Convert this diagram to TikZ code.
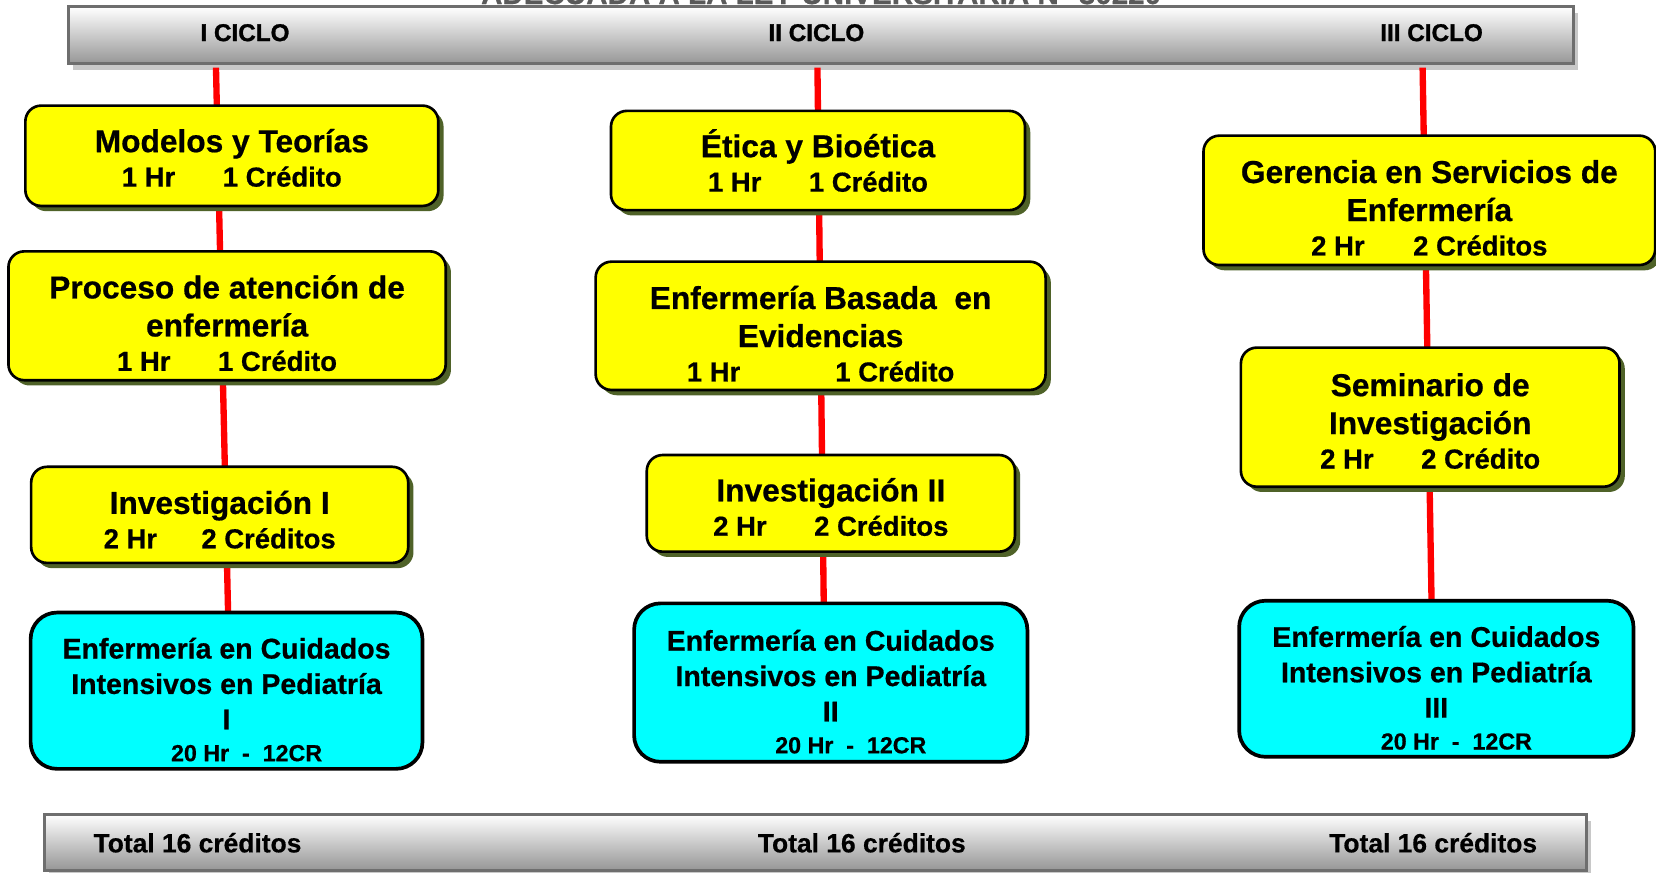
\documentclass[tikz,border=0pt]{standalone}
\usepackage{fontspec}
\setmainfont[BoldFeatures={FakeBold=0.6}]{Liberation Sans}
\newfontfamily\hdrfont[BoldFeatures={FakeBold=1.2}]{Liberation Sans}
\usetikzlibrary{shadows}
\definecolor{boxyellow}{RGB}{255,255,0}
\definecolor{boxcyan}{RGB}{0,255,255}
\definecolor{olivesh}{RGB}{79,98,40}
\definecolor{barborder}{RGB}{110,110,110}
\definecolor{barshadow}{RGB}{200,200,200}
\definecolor{bargrey}{RGB}{150,150,150}
\definecolor{toptextc}{RGB}{90,90,90}
\definecolor{linkred}{RGB}{255,0,0}
\tikzset{
  ybox/.style={draw=black, line width=2.5pt, fill=boxyellow, rounded corners=15pt,
    drop shadow={shadow xshift=5pt, shadow yshift=-5pt, fill=olivesh, opacity=1},
    align=center, inner sep=0pt, font=\bfseries\fontsize{30}{36}\selectfont},
  cbox/.style={draw=black, line width=3.5pt, fill=boxcyan, rounded corners=25pt,
    align=center, inner sep=0pt, font=\bfseries\fontsize{27}{33.5}\selectfont},
  greybar/.style={draw=barborder, line width=3pt, top color=white, bottom color=bargrey,
    drop shadow={shadow xshift=4pt, shadow yshift=-6pt, fill=barshadow, opacity=1},
    inner sep=0pt},
  hdrlabel/.style={font=\hdrfont\bfseries\fontsize{23}{28}\selectfont, inner sep=0pt},
  totlabel/.style={font=\bfseries\fontsize{25}{30}\selectfont, inner sep=0pt},
  link/.style={draw=linkred, line width=6pt},
}
\newcommand{\subl}{\fontsize{26}{32}\selectfont}
\newcommand{\crl}{\fontsize{22}{30}\selectfont}
\newcommand{\tstrut}[1]{\rule{0pt}{#1pt}}
\begin{document}
\begin{tikzpicture}[x=1pt,y=-1pt]
\useasboundingbox[fill=white] (0,0) rectangle (1568,826);

% title fragment (cut off at the top, as in the original)
\node[anchor=base, inner sep=0pt, text=toptextc, font=\bfseries\fontsize{28}{32}\selectfont] (ttl) at (777.5,3.8) {ADECUADA A LA LEY UNIVERSITARIA N° 30220};

% header bar
\node[greybar, minimum width=1425pt, minimum height=54pt] (hdr) at (777.5,33.5) {};
\node[hdrlabel] (l1) at (232,31) {I CICLO};
\node[hdrlabel] (l2) at (773,31) {II CICLO};
\node[hdrlabel] (l3) at (1355.5,31) {III CICLO};

% connectors
\coordinate (h1) at (204.5,64);
\coordinate (k1) at (216,582);
\coordinate (h2) at (774,64);
\coordinate (k2) at (780,574);
\coordinate (h3) at (1347,64);
\coordinate (k3) at (1355.5,571);
\draw[link] (h1) -- (k1);
\draw[link] (h2) -- (k2);
\draw[link] (h3) -- (k3);

% column I
\node[ybox, minimum width=391pt, minimum height=95pt] (m1) at (219.5,147.5)
  {\tstrut{26}Modelos y Teorías\\[-3.4pt]\subl 1 Hr\hspace{45pt}1 Crédito};
\node[ybox, minimum width=414pt, minimum height=122pt] (p1) at (215,299)
  {\tstrut{36}Proceso de atención de\\enfermería\\[-3.4pt]\subl 1 Hr\hspace{45pt}1 Crédito};
\node[ybox, minimum width=357pt, minimum height=91pt] (i1) at (208,487.5)
  {\tstrut{31}Investigación I\\[-3.4pt]\subl 2 Hr\hspace{42pt}2 Créditos};
\node[cbox, minimum width=371pt, minimum height=148pt] (c1) at (214.5,654)
  {\tstrut{36.5}Enfermería en Cuidados\\Intensivos en Pediatría\\I\\[-3.3pt]\crl\hspace*{38pt}20 Hr\ \ -\ \ 12CR};

% column II
\node[ybox, minimum width=392pt, minimum height=94pt] (e2) at (774.5,152)
  {Ética y Bioética\\[-3.4pt]\subl 1 Hr\hspace{45pt}1 Crédito};
\node[ybox, minimum width=426pt, minimum height=121.5pt] (b2) at (777,308.5)
  {\tstrut{37}Enfermería Basada\ \ en\\Evidencias\\[-3.4pt]\subl 1 Hr\hspace{90pt}1 Crédito};
\node[ybox, minimum width=348.6pt, minimum height=91.5pt] (i2) at (786.7,476.6)
  {\tstrut{29}Investigación II\\[-3.4pt]\subl 2 Hr\hspace{45pt}2 Créditos};
\node[cbox, minimum width=372.4pt, minimum height=150pt] (c2) at (786.6,646.3)
  {\tstrut{37}Enfermería en Cuidados\\Intensivos en Pediatría\\II\\[-3.3pt]\crl\hspace*{38pt}20 Hr\ \ -\ \ 12CR};

% column III
\node[ybox, minimum width=427.7pt, minimum height=122.5pt] (g3) at (1353.4,189.7)
  {\tstrut{36}Gerencia en Servicios de\\Enfermería\\[-3.4pt]\subl 2 Hr\hspace{46pt}2 Créditos};
\node[ybox, minimum width=358.5pt, minimum height=131.7pt] (s3) at (1354.2,395)
  {\tstrut{29}Seminario de\\Investigación\\[-3.4pt]\subl 2 Hr\hspace{45pt}2 Crédito};
\node[cbox, minimum width=373.4pt, minimum height=147.8pt] (c3) at (1360,642.7)
  {\tstrut{37}Enfermería en Cuidados\\Intensivos en Pediatría\\III\\[-3.3pt]\crl\hspace*{38pt}20 Hr\ \ -\ \ 12CR};

% footer bar
\node[greybar, minimum width=1460pt, minimum height=53pt] (ftr) at (772,797.5) {};
\node[totlabel] (t1) at (187,798) {Total 16 créditos};
\node[totlabel] (t2) at (816,798) {Total 16 créditos};
\node[totlabel] (t3) at (1357,798) {Total 16 créditos};
\end{tikzpicture}
\end{document}
